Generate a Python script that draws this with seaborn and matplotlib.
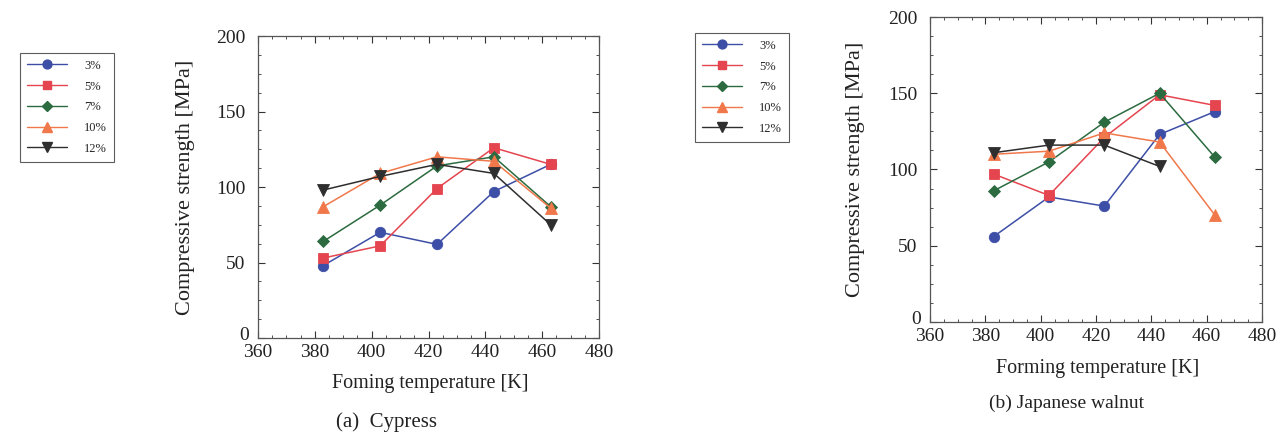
import numpy as np
import pandas as pd
import matplotlib
matplotlib.use("Agg")
import matplotlib.pyplot as plt
import matplotlib.transforms as mtransforms
from matplotlib.ticker import MultipleLocator
import seaborn as sns

# Forming temperatures [K] and binder contents
temperature = [383, 403, 423, 443, 463]
contents = ["3%", "5%", "7%", "10%", "12%"]

# Compressive strength [MPa] - (a) Cypress
cypress_3 = [48, 70, 62, 97, 115]
cypress_5 = [53, 61, 99, 126, 115]
cypress_7 = [64, 88, 114, 120, 87]
cypress_10 = [87, 109, 120, 117, 86]
cypress_12 = [98, 107, 115, 109, 75]

# Compressive strength [MPa] - (b) Japanese walnut
walnut_3 = [56, 82, 76, 123, 138]
walnut_5 = [97, 83, 121, 149, 142]
walnut_7 = [86, 105, 131, 150, 108]
walnut_10 = [110, 112, 124, 118, 70]
walnut_12 = [111, 116, 116, 102, np.nan]

x_ticks = [360, 380, 400, 420, 440, 460, 480]
y_ticks = [0, 50, 100, 150, 200]

palette = {"3%": "#3d4ea6", "5%": "#e5454f", "7%": "#2c6b40",
           "10%": "#f0784a", "12%": "#2e2e2e"}
markers = {"3%": "o", "5%": "s", "7%": "D", "10%": "^", "12%": "v"}
sizes = {"3%": 7.5, "5%": 7.5, "7%": 6.5, "10%": 8, "12%": 8}


def long_frame(series):
    rows = []
    for label, values in zip(contents, series):
        for t, v in zip(temperature, values):
            rows.append({"T": t, "strength": v, "content": label})
    return pd.DataFrame(rows)


df_a = long_frame([cypress_3, cypress_5, cypress_7, cypress_10, cypress_12])
df_b = long_frame([walnut_3, walnut_5, walnut_7, walnut_10, walnut_12])

sns.set_theme(style="ticks")
plt.rcParams["font.family"] = ["Liberation Serif", "DejaVu Serif"]

fig = plt.figure(figsize=(12.85, 4.36), dpi=100)
ax_a = fig.add_axes([258 / 1285, 1 - 338 / 436, 341 / 1285, 302 / 436])
ax_b = fig.add_axes([930 / 1285, 1 - 322 / 436, 332 / 1285, 305 / 436])


def draw(ax, df, xlabel, caption, cap_size, cap_xy, legend_xy, ylab_x):
    for label in contents:
        sub = df[df["content"] == label].dropna()
        sns.lineplot(data=sub, x="T", y="strength", ax=ax, color=palette[label],
                     marker=markers[label], markersize=sizes[label],
                     markeredgewidth=0.6, markeredgecolor=palette[label],
                     linewidth=1.1, label=label, legend=False, sort=False)
    ax.set_xlim(360, 480)
    ax.set_ylim(0, 200)
    ax.set_xticks(x_ticks)
    ax.set_yticks(y_ticks)
    ax.xaxis.set_minor_locator(MultipleLocator(5))
    ax.yaxis.set_minor_locator(MultipleLocator(12.5))
    ax.tick_params(which="both", direction="in", top=True, right=True,
                   labelsize=14, colors="#333333", labelcolor="#222222")
    ax.tick_params(which="major", length=5, width=0.8)
    ax.tick_params(which="minor", length=2.5, width=0.6)
    ax.tick_params(axis="y", which="major", pad=9)
    ax.tick_params(axis="x", which="major", pad=4)
    # lift the "0" label so it sits above the corner, clear of "360"
    zero = ax.yaxis.get_major_ticks()[0].label1
    zero.set_transform(zero.get_transform() +
                       mtransforms.ScaledTranslation(0.04, 0.05, fig.dpi_scale_trans))
    for s in ax.spines.values():
        s.set_color("#555555")
        s.set_linewidth(0.9)
    ax.set_xlabel(xlabel, fontsize=14.5, color="#222222")
    ax.set_ylabel("Compressive strength [MPa]", fontsize=16, color="#222222")
    ax.xaxis.set_label_coords(0.505, -0.12)
    ax.yaxis.set_label_coords(ylab_x, 0.5)
    fig.text(cap_xy[0], cap_xy[1], caption, fontsize=cap_size, color="#222222",
             ha="center", va="center")

    handles = [plt.Line2D([], [], color=palette[c], marker=markers[c],
                          markersize=sizes[c] * 0.85, linewidth=1.0)
               for c in contents]
    leg = fig.legend(handles, contents, loc="upper left",
                     bbox_to_anchor=legend_xy, bbox_transform=fig.transFigure,
                     fontsize=9, frameon=True, fancybox=False,
                     handlelength=3.2, handletextpad=1.4, labelspacing=0.7,
                     borderpad=0.55, borderaxespad=0)
    leg.get_frame().set_edgecolor("#333333")
    leg.get_frame().set_linewidth(0.8)


draw(ax_a, df_a, "Foming temperature [K]", "(a)  Cypress", 15,
     (387 / 1285, 1 - 422 / 436), (20 / 1285, 1 - 53 / 436), -0.185)
draw(ax_b, df_b, "Forming temperature [K]", "(b) Japanese walnut", 14,
     (1067 / 1285, 1 - 403 / 436), (695 / 1285, 1 - 33 / 436), -0.195)

fig.savefig("out.png", dpi=100, facecolor="white")
